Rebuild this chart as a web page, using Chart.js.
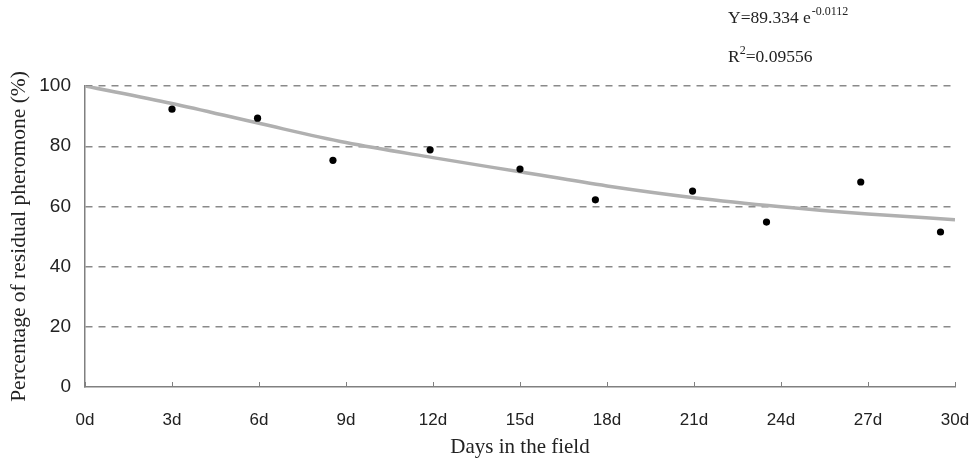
<!DOCTYPE html>
<html>
<head>
<meta charset="utf-8">
<script src="https://cdn.jsdelivr.net/npm/chart.js@4/dist/chart.umd.min.js"></script>
<style>
  html, body { margin: 0; padding: 0; background: #fff; }
  #wrap { width: 974px; height: 464px; }
</style>
</head>
<body>
<div id="wrap"><canvas id="myChart"></canvas></div>
<script>
// observed residual pheromone (%)
var obsDays = [3.0, 5.95, 8.55, 11.9, 15.0, 17.6, 20.95, 23.5, 26.75, 29.5];
var obsValues = [92.3, 89.3, 75.3, 78.8, 72.4, 62.2, 65.1, 54.8, 68.1, 51.5];

// fitted curve
var fitDays = [0, 3, 6, 9, 12, 15, 18, 21, 24, 27, 30];
var fitValues = [100, 94.2, 87.6, 81.2, 76.2, 71.5, 66.8, 62.9, 59.9, 57.5, 55.6];

var xTicks = [0, 3, 6, 9, 12, 15, 18, 21, 24, 27, 30];
var yTicks = [0, 20, 40, 60, 80, 100];

var eqText = ['Y=89.334 e', '-0.0112'];
var r2Text = ['R', '2', '=0.09556'];

function toPoints(xs, ys) {
	return xs.map(function(x, i) { return { x: x, y: ys[i] }; });
}

// small tick marks pointing into the plot, plus the equation text
var extras = {
	id: 'extras',
	afterDraw: function(chart) {
		var ctx = chart.ctx;
		var xs = chart.scales.x;
		var bottom = chart.chartArea.bottom;
		ctx.save();
		ctx.strokeStyle = '#808080';
		ctx.lineWidth = 1;
		xTicks.forEach(function(v) {
			var px = Math.round(xs.getPixelForValue(v)) + 0.5;
			ctx.beginPath();
			ctx.moveTo(px, bottom);
			ctx.lineTo(px, bottom - 5);
			ctx.stroke();
		});

		ctx.fillStyle = '#222';
		ctx.textBaseline = 'alphabetic';
		ctx.font = '17.5px "Liberation Serif"';
		var x0 = 728;
		ctx.fillText(eqText[0], x0, 23);
		var w = ctx.measureText(eqText[0]).width;
		ctx.font = '12px "Liberation Serif"';
		ctx.fillText(eqText[1], x0 + w + 1, 15);

		ctx.font = '17.5px "Liberation Serif"';
		ctx.fillText(r2Text[0], x0, 62);
		var w2 = ctx.measureText(r2Text[0]).width;
		ctx.font = '12px "Liberation Serif"';
		ctx.fillText(r2Text[1], x0 + w2, 54);
		var w3 = ctx.measureText(r2Text[1]).width;
		ctx.font = '17.5px "Liberation Serif"';
		ctx.fillText(r2Text[2], x0 + w2 + w3, 62);
		ctx.restore();
	}
};

var data = {
	datasets: [{
		label: 'fit',
		data: toPoints(fitDays, fitValues),
		showLine: true,
		borderColor: '#b0b0b0',
		borderWidth: 3.5,
		pointRadius: 0,
		cubicInterpolationMode: 'monotone',
		fill: false,
		order: 2
	}, {
		label: 'observed',
		data: toPoints(obsDays, obsValues),
		showLine: false,
		pointRadius: 3.6,
		pointBackgroundColor: '#000',
		pointBorderColor: '#000',
		borderWidth: 0,
		order: 1
	}]
};

var config = {
	type: 'scatter',
	data: data,
	options: {
		responsive: false,
		animation: false,
		layout: { padding: { top: 86, right: 19, left: 0, bottom: 0 } },
		plugins: {
			legend: { display: false },
			tooltip: { enabled: false }
		},
		scales: {
			x: {
				type: 'linear',
				min: 0,
				max: 30,
				afterBuildTicks: function(scale) {
					scale.ticks = xTicks.map(function(v) { return { value: v }; });
				},
				afterFit: function(scale) {
					scale.height = 77;
					scale.paddingLeft = 0;
					scale.paddingRight = 0;
				},
				grid: { display: false },
				border: { color: '#808080', width: 1.5 },
				ticks: {
					color: '#222',
					padding: 15,
					maxRotation: 0,
					font: { family: '"Liberation Sans"', size: 17 },
					callback: function(v) { return v + 'd'; }
				},
				title: {
					display: true,
					text: 'Days in the field',
					color: '#222',
					padding: { top: 2 },
					font: { family: '"Liberation Serif"', size: 21 }
				}
			},
			y: {
				min: 0,
				max: 100,
				afterBuildTicks: function(scale) {
					scale.ticks = yTicks.map(function(v) { return { value: v }; });
				},
				afterFit: function(scale) {
					scale.width = 85;
					scale.paddingTop = 0;
					scale.paddingBottom = 0;
				},
				grid: {
					color: function(c) { return c.tick.value === 0 ? 'rgba(0,0,0,0)' : '#8a8a8a'; },
					lineWidth: 1.4,
					drawTicks: false
				},
				border: { color: '#808080', width: 1.5, dash: [7, 6] },
				ticks: {
					color: '#222',
					padding: 14,
					font: { family: '"Liberation Sans"', size: 19 }
				},
				title: {
					display: true,
					text: 'Percentage of residual pheromone (%)',
					color: '#222',
					padding: { top: 6, bottom: 2 },
					font: { family: '"Liberation Serif"', size: 21.5 }
				}
			}
		}
	},
	plugins: [extras]
};

var canvas = document.getElementById('myChart');
canvas.width = 974;
canvas.height = 464;
var myChart = new Chart(canvas, config);
</script>
</body>
</html>
